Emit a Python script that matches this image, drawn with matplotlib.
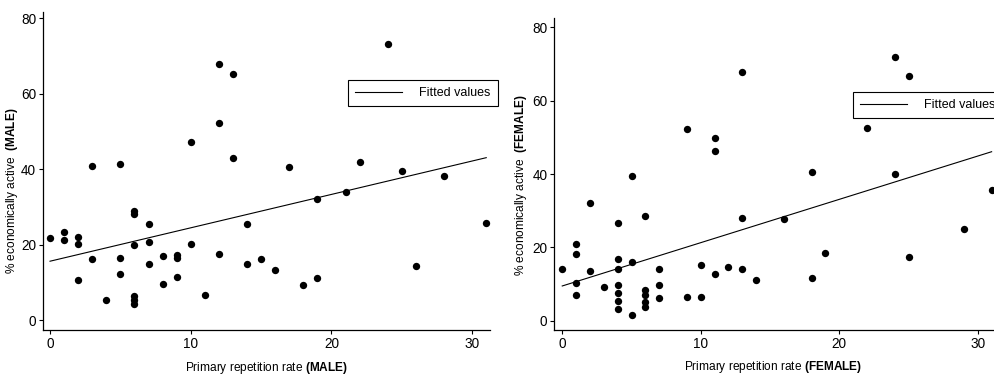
import numpy as np
import matplotlib
matplotlib.use("Agg")
import matplotlib.pyplot as plt
from matplotlib import font_manager

# ---- data ----
male_rep = [0, 1, 1, 2, 2, 2, 3, 3, 4, 5, 5, 5, 6, 6, 6, 6, 6, 6, 7, 7, 7, 8, 8, 9, 9, 9,
            10, 10, 11, 12, 12, 12, 13, 13, 14, 14, 15, 16, 17, 18, 19, 19, 21, 22, 24, 25,
            26, 28, 31]
male_active = [21.8, 23.4, 21.2, 22.1, 20.2, 10.6, 16.2, 40.9, 5.3, 16.5, 12.3, 41.4,
               28.9, 28.1, 19.9, 6.4, 5.3, 4.3, 25.4, 20.8, 14.9, 17.0, 9.6, 17.2, 16.4, 11.5,
               20.2, 47.1, 6.7, 17.4, 52.2, 67.8, 43.0, 65.2, 25.6, 14.9, 16.2, 13.3, 40.7,
               9.3, 11.2, 32.1, 33.9, 41.8, 73.2, 39.6, 14.3, 38.2, 25.8]
# fitted line as shown in the picture: intercept, slope
male_fit = [15.6, 0.886]

female_rep = [0, 1, 1, 1, 1, 2, 2, 3, 4, 4, 4, 4, 4, 4, 4, 5, 5, 5, 6, 6, 6, 6, 6, 7, 7, 7,
              9, 9, 10, 10, 11, 11, 11, 12, 13, 13, 13, 14, 16, 18, 18, 19, 22, 24, 24, 25,
              25, 29, 31]
female_active = [14.1, 20.8, 18.2, 10.2, 7.0, 32.0, 13.6, 9.1, 26.6, 16.9, 14.0, 9.7, 7.6,
                 5.4, 3.1, 16.1, 1.6, 39.5, 28.6, 8.4, 7.0, 5.2, 3.8, 14.0, 9.8, 6.1,
                 6.6, 52.2, 15.2, 6.6, 12.8, 49.7, 46.3, 14.8, 14.0, 27.9, 67.9, 11.1, 27.7,
                 40.6, 11.8, 18.6, 52.6, 71.8, 40.0, 66.7, 17.5, 25.1, 35.6]
female_fit = [9.5, 1.18]

x_ticks = [0, 10, 20, 30]
y_ticks = [0, 20, 40, 60, 80]
legend_label = "Fitted values"

# ---- fonts ----
names = {f.name for f in font_manager.fontManager.ttflist}
narrow = "Liberation Sans Narrow" in names
main_font = "Liberation Sans Narrow" if narrow else "Liberation Sans"
plt.rcParams["font.family"] = [main_font, "DejaVu Sans"]
plt.rcParams["mathtext.fontset"] = "custom"
plt.rcParams["mathtext.rm"] = main_font
plt.rcParams["mathtext.bf"] = main_font + ":bold"

lab_fs = 10 if narrow else 8.6
leg_fs = 10.5 if narrow else 9

fig = plt.figure(figsize=(9.95, 3.76), dpi=100)

panels = [
    dict(x=male_rep, y=male_active, fit=male_fit, rect=[0.0432, 0.1223, 0.4493, 0.8457],
         xlim=(-0.5, 31.27), ylim=(-2.65, 81.7), tag="MALE",
         leg=(0.682, 0.786), ylab=(-0.052, 0.437)),
    dict(x=female_rep, y=female_active, fit=female_fit, rect=[0.557, 0.1223, 0.441, 0.8297],
         xlim=(-0.58, 31.1), ylim=(-2.5, 82.5), tag="FEMALE",
         leg=(0.680, 0.763), ylab=(-0.057, 0.465)),
]

for p in panels:
    ax = fig.add_axes(p["rect"])
    x = np.array(p["x"], dtype=float)
    y = np.array(p["y"], dtype=float)
    ax.scatter(x, y, s=28, color="black", zorder=3, linewidths=0)
    a, b = p["fit"]
    xs = np.array([x.min(), x.max()])
    ax.plot(xs, a + b * xs, color="black", lw=0.8, label=legend_label, zorder=2)
    ax.set_xlim(*p["xlim"])
    ax.set_ylim(*p["ylim"])
    ax.set_xticks(x_ticks)
    ax.set_yticks(y_ticks)
    ax.tick_params(direction="out", length=3, width=0.8, labelsize=9.8, pad=2)
    for s in ("top", "right"):
        ax.spines[s].set_visible(False)
    for s in ("left", "bottom"):
        ax.spines[s].set_linewidth(0.9)
    ax.set_xlabel("Primary repetition rate " + r"$\bf{(" + p["tag"] + ")}$", fontsize=lab_fs)
    ax.set_ylabel("% economically active  " + r"$\bf{(" + p["tag"] + ")}$", fontsize=lab_fs)
    ax.yaxis.set_label_coords(*p["ylab"])
    ax.xaxis.set_label_coords(0.5, -0.094)
    leg = ax.legend(loc="upper left", bbox_to_anchor=p["leg"], fancybox=False,
                    edgecolor="black", framealpha=1, borderaxespad=0, fontsize=leg_fs,
                    handlelength=3.8, handletextpad=1.36, borderpad=0.56)
    leg.get_frame().set_linewidth(0.8)

fig.savefig("out.png", dpi=100)
